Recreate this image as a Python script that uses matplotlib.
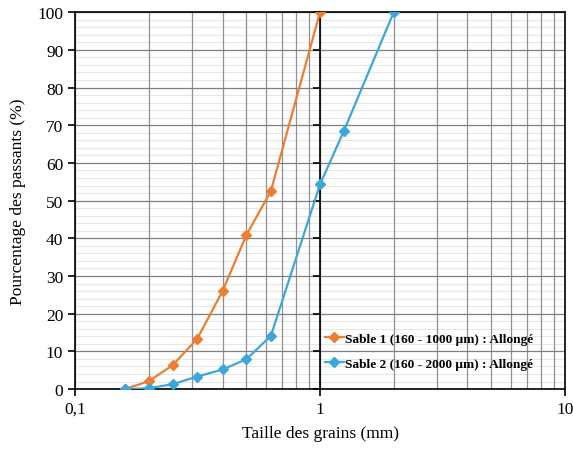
import numpy as np
import matplotlib
matplotlib.use('Agg')
import matplotlib.pyplot as plt
from matplotlib.ticker import LogLocator, NullFormatter

# grain sizes (mm) and cumulative passing (%)
taille_1 = [0.16, 0.2, 0.25, 0.315, 0.4, 0.5, 0.63, 1.0]
passant_1 = [0, 2.1, 6.3, 13.3, 26.0, 40.8, 52.5, 100]
taille_2 = [0.16, 0.2, 0.25, 0.315, 0.4, 0.5, 0.63, 1.0, 1.25, 2.0]
passant_2 = [0, 0.2, 1.3, 3.3, 5.2, 7.9, 14.1, 54.3, 68.4, 100]

label_1 = 'Sable 1 (160 - 1000 µm) : Allongé'
label_2 = 'Sable 2 (160 - 2000 µm) : Allongé'
x_ticks = [0.1, 1, 10]
x_labels = ['0,1', '1', '10']
y_ticks = list(range(0, 101, 10))
y_minor = [v for v in range(2, 100, 2) if v % 10]

plt.rcParams['font.family'] = ['Liberation Serif', 'DejaVu Serif']

fig = plt.figure(figsize=(5.73, 4.52), dpi=100)
ax = fig.add_axes([0.131, 0.137, 0.855, 0.834])

ax.set_xscale('log')
ax.set_xlim(0.1, 10)
ax.set_ylim(0, 100)

# light horizontal minor lines first, then the darker grid on top
for v in y_minor:
    ax.axhline(v, color='#e6e6e6', lw=0.8, zorder=0.3)
ax.xaxis.set_minor_locator(LogLocator(base=10, subs=np.arange(2, 10)))
ax.xaxis.set_minor_formatter(NullFormatter())
ax.grid(True, which='major', axis='y', color='#7f7f7f', lw=0.9)
ax.grid(True, which='minor', axis='x', color='#909090', lw=0.9)
ax.grid(True, which='major', axis='x', color='#7f7f7f', lw=0.9)
ax.set_axisbelow(True)

ax.set_xticks(x_ticks)
ax.set_xticklabels(x_labels)
ax.set_yticks(y_ticks)
ax.tick_params(which='minor', length=0)
ax.tick_params(which='major', direction='out', length=5, width=1.2, labelsize=12.5, color='black')

for s in ax.spines.values():
    s.set_color('black')
    s.set_linewidth(1.2)

# secondary vertical axis line at 1 mm
ax.axvline(1, color='black', lw=1.2, zorder=1.5)
ax.plot([1] * len(y_ticks), y_ticks, ls='none', marker=0, ms=5, mew=1.2,
        color='black', zorder=1.5, clip_on=False)

ax.plot(taille_1, passant_1, color='#ED7D31', lw=1.6, marker='D', ms=5, label=label_1, zorder=3)
ax.plot(taille_2, passant_2, color='#3DA6DA', lw=1.6, marker='D', ms=5, label=label_2, zorder=3)

ax.set_xlabel('Taille des grains (mm)', fontsize=12.5, labelpad=6)
ax.set_ylabel('Pourcentage des passants (%)', fontsize=12.5, labelpad=8)

leg = ax.legend(loc='lower right', bbox_to_anchor=(0.96, 0.02), frameon=False,
                prop={'weight': 'bold', 'size': 9.6}, handlelength=1.4, handletextpad=0.1,
                labelspacing=0.95)

fig.savefig('out.png', dpi=100)
